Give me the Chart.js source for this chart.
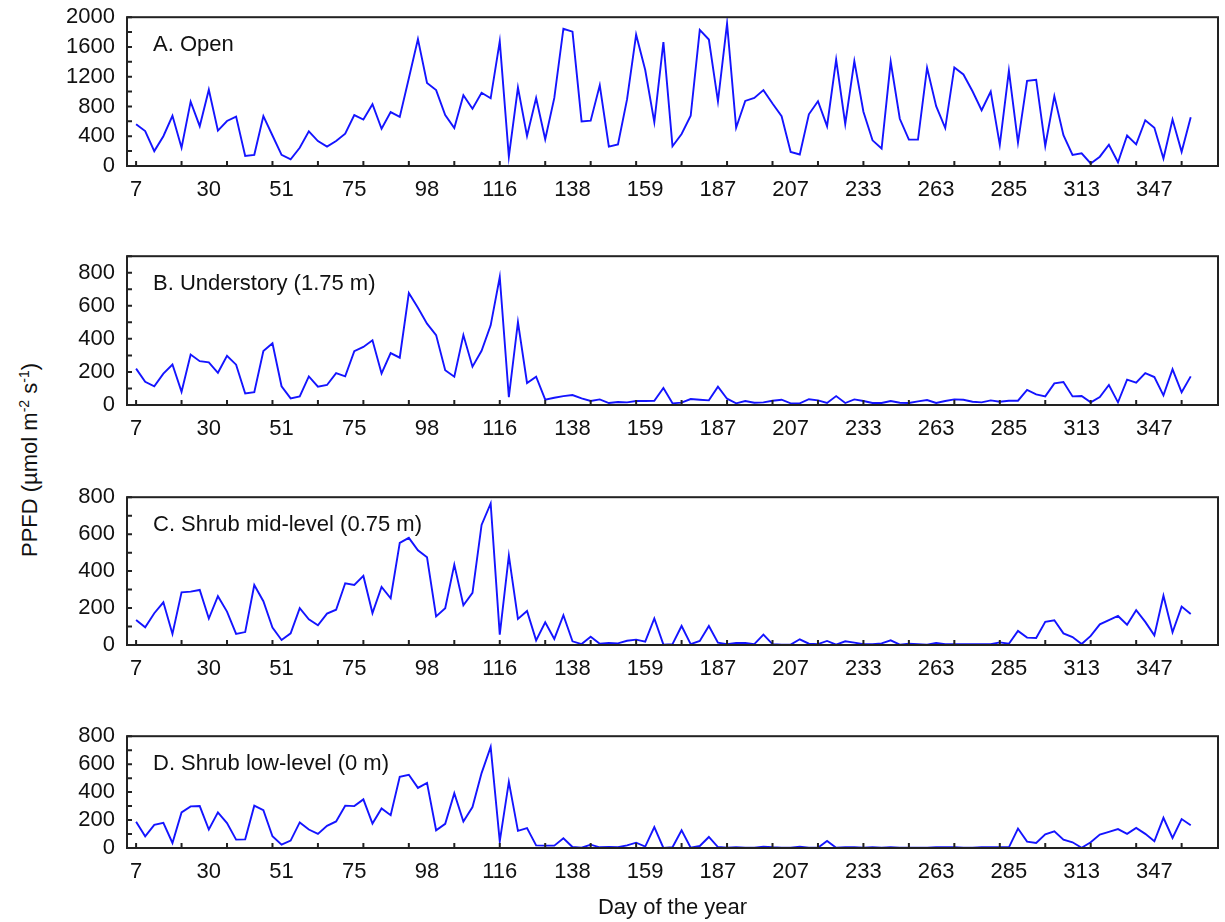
<!DOCTYPE html>
<html>
<head>
<meta charset="utf-8">
<script src="https://cdn.jsdelivr.net/npm/chart.js@4.4.1/dist/chart.umd.min.js"></script>
<style>
  body { margin: 0; background: #fff; }
  #wrap { position: relative; width: 1225px; height: 922px; font-family: "Liberation Sans", Arial, sans-serif; color: #111; }
  #wrap canvas { position: absolute; left: 0; }
  #ytitle { position: absolute; left: 30px; top: 460px; transform: translate(-50%, -50%) rotate(-90deg);
            white-space: nowrap; font-size: 22px; line-height: 1; }
  #ytitle sup { font-size: 14px; vertical-align: 0; position: relative; top: -0.6em; }
</style>
</head>
<body>
<div id="wrap">
  <div id="ytitle">PPFD (µmol m<sup>-2</sup> s<sup>-1</sup>)</div>
</div>
<script>
// x axis: one label every 8 samples, tick marks every 5 samples
const dayLabels = ['7', '30', '51', '75', '98', '116', '138', '159', '187', '207', '233', '263', '285', '313', '347'];
const labelEvery = 8;
const tickEvery = 5;

// PPFD, one value per sample (117 samples)
const openPPFD = [
  560, 470, 200, 400, 675, 245, 865, 535, 1025, 475, 605, 665, 135, 150, 670, 410, 150, 90, 245, 465,
  335, 260, 335, 435, 685, 625, 830, 500, 725, 660, 1180, 1705, 1115, 1020, 685, 510, 950, 770, 985, 910,
  1675, 125, 1055, 405, 915, 360, 915, 1845, 1805, 600, 610, 1085, 260, 290, 895, 1765, 1290, 590, 1665, 265,
  430, 675, 1830, 1700, 870, 1915, 515, 875, 915, 1020, 840, 670, 190, 155, 695, 870, 535, 1430, 565, 1410,
  730, 345, 235, 1400, 635, 355, 355, 1320, 805, 510, 1325, 1230, 1005, 750, 1000, 285, 1280, 315, 1145, 1160,
  270, 940, 415, 150, 170, 35, 125, 285, 50, 410, 290, 615, 515, 100, 625, 190, 655
];
const understoryPPFD = [
  220, 140, 113, 190, 245, 80, 305, 265, 258, 195, 298, 244, 70, 78, 326, 373, 113, 40, 52, 173,
  111, 121, 193, 173, 326, 351, 391, 191, 314, 286, 677, 588, 492, 423, 210, 171, 423, 232, 328, 482,
  774, 48, 502, 133, 171, 32, 44, 54, 60, 40, 24, 34, 12, 18, 16, 24, 24, 26, 103, 10,
  14, 36, 32, 28, 111, 38, 10, 24, 14, 16, 26, 32, 10, 10, 35, 28, 12, 54, 12, 34,
  24, 12, 12, 24, 14, 12, 22, 30, 12, 24, 34, 32, 20, 16, 28, 20, 26, 26, 91, 64,
  52, 131, 139, 52, 54, 16, 48, 121, 16, 153, 135, 193, 169, 58, 216, 77, 173
];
const shrubMidPPFD = [
  135, 96, 172, 231, 60, 285, 289, 298, 143, 264, 181, 60, 70, 325, 237, 94, 27, 63, 199, 139,
  107, 170, 191, 334, 325, 374, 173, 314, 253, 553, 580, 513, 475, 155, 199, 435, 215, 282, 650, 766,
  56, 484, 141, 184, 25, 123, 33, 161, 20, 5, 45, 7, 11, 9, 23, 29, 18, 144, 2, 5,
  103, 5, 22, 103, 13, 4, 11, 11, 5, 56, 5, 2, 2, 31, 7, 5, 22, 2, 20, 13,
  4, 4, 9, 25, 2, 7, 5, 2, 11, 5, 4, 4, 4, 4, 4, 14, 7, 76, 40, 38,
  125, 134, 63, 43, 5, 49, 112, 135, 157, 110, 188, 125, 52, 267, 69, 208, 168
];
const shrubLowPPFD = [
  187, 84, 166, 180, 36, 255, 298, 300, 132, 255, 178, 60, 62, 303, 271, 84, 24, 53, 183, 132,
  101, 159, 190, 303, 300, 348, 175, 283, 235, 509, 524, 430, 466, 127, 173, 392, 190, 293, 536, 723,
  48, 473, 123, 142, 19, 17, 17, 70, 7, 2, 24, 5, 7, 5, 19, 38, 10, 149, 0, 5,
  127, 2, 14, 79, 7, 2, 5, 2, 2, 10, 5, 2, 2, 10, 2, 2, 50, 2, 5, 5,
  2, 5, 2, 5, 2, 2, 2, 2, 5, 5, 5, 2, 2, 5, 5, 5, 5, 139, 46, 36,
  98, 120, 60, 41, 2, 41, 96, 115, 135, 101, 144, 101, 48, 216, 72, 207, 163
];

const panels = [
  { label: 'A. Open', values: openPPFD, top: 17, height: 149, yMax: 2000, minor: 200, major: 400 },
  { label: 'B. Understory (1.75 m)', values: understoryPPFD, top: 256, height: 149, yMax: 900, minor: 100, major: 200 },
  { label: 'C. Shrub mid-level (0.75 m)', values: shrubMidPPFD, top: 497, height: 148, yMax: 800, minor: 100, major: 200 },
  { label: 'D. Shrub low-level (0 m)', values: shrubLowPPFD, top: 736, height: 112, yMax: 800, minor: 100, major: 200, xTitle: 'Day of the year' }
];

const family = '"Liberation Sans", Arial, sans-serif';
const ink = '#111';

// box round the plot, inward tick marks and the panel caption
const framePlugin = {
  id: 'frame',
  afterDatasetsDraw(chart, args, opts) {
    const { ctx, chartArea: a, scales: { x, y } } = chart;
    ctx.save();
    ctx.strokeStyle = '#222';
    ctx.lineWidth = 2;
    ctx.strokeRect(a.left, a.top, a.right - a.left, a.bottom - a.top);
    ctx.beginPath();
    for (let i = 0; i <= x.max; i += tickEvery) {
      const px = x.getPixelForValue(i);
      ctx.moveTo(px, a.bottom);
      ctx.lineTo(px, a.bottom - 5);
    }
    y.ticks.forEach(t => {
      const py = y.getPixelForValue(t.value);
      ctx.moveTo(a.left, py);
      ctx.lineTo(a.left + 5, py);
    });
    ctx.stroke();
    ctx.fillStyle = ink;
    ctx.font = '22px ' + family;
    ctx.textBaseline = 'middle';
    ctx.fillText(opts.text, a.left + 26, a.top + 28);
    ctx.restore();
  }
};

const wrap = document.getElementById('wrap');
// the y axis keeps half a label height plus its tick padding free above the plot
const topGap = 26.4 / 2 + 12;

panels.forEach(p => {
  const bottomH = p.xTitle ? 74 : 40;
  const cv = document.createElement('canvas');
  cv.width = 1225;
  cv.height = Math.round(topGap + p.height + bottomH);
  cv.style.top = (p.top - topGap) + 'px';
  wrap.appendChild(cv);

  new Chart(cv, {
    type: 'line',
    data: {
      datasets: [{
        data: p.values.map((v, i) => ({ x: i, y: v })),
        borderColor: '#1414ff',
        borderWidth: 1.9,
        pointRadius: 0,
        tension: 0,
        fill: false
      }]
    },
    options: {
      responsive: false,
      animation: false,
      layout: { padding: { top: 0, right: 7, left: 0, bottom: 0 } },
      plugins: {
        legend: { display: false },
        tooltip: { enabled: false },
        frame: { text: p.label }
      },
      scales: {
        x: {
          type: 'linear',
          min: -1,
          max: 119,
          grid: { display: false, drawTicks: false },
          border: { display: false },
          afterBuildTicks: s => { s.ticks = dayLabels.map((d, k) => ({ value: k * labelEvery })); },
          afterFit: s => { s.height = bottomH; },
          ticks: {
            autoSkip: false,
            maxRotation: 0,
            padding: 11,
            color: ink,
            font: { size: 22, family },
            callback: (v, k) => dayLabels[k]
          },
          title: {
            display: !!p.xTitle,
            text: p.xTitle || '',
            color: ink,
            font: { size: 22, family },
            padding: { top: 0, bottom: 1 }
          }
        },
        y: {
          min: 0,
          max: p.yMax,
          grid: { display: false, drawTicks: false },
          border: { display: false },
          afterFit: s => { s.width = 127; },
          ticks: {
            stepSize: p.minor,
            autoSkip: false,
            padding: 12,
            color: ink,
            font: { size: 22, family },
            callback: v => (v % p.major === 0 ? String(v) : '')
          }
        }
      }
    },
    plugins: [framePlugin]
  });
});
</script>
</body>
</html>
